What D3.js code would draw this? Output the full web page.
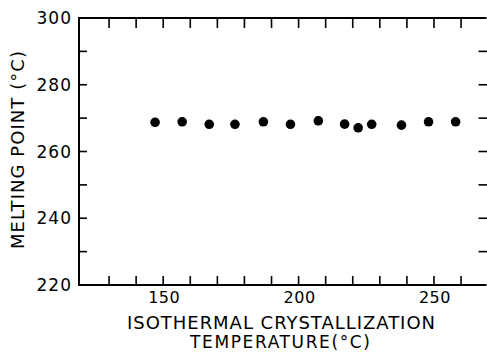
<!DOCTYPE html>
<html>
<head>
<meta charset="utf-8">
<script src="https://cdn.jsdelivr.net/npm/d3@7"></script>
<style>
  body { margin: 0; background: #fff; }
  svg { display: block; font-family: "DejaVu Sans", sans-serif; }
</style>
</head>
<body>
<div id="chart"></div>
<script>
// Data
const crystTemp = [147, 157, 167, 176.5, 187, 197, 207.3, 217, 222, 227, 238, 248, 258];
const meltPoint = [268.75, 268.9, 268.15, 268.15, 268.9, 268.15, 269.2, 268.2, 267.1, 268.15, 267.9, 268.9, 268.9];
const xTickLabels = [150, 200, 250];
const yTickLabels = [220, 240, 260, 280, 300];
const xMinor = d3.range(130, 261, 10);
const yLeft = [230, 240, 250, 260, 270, 280, 290];
const yRight = d3.range(230, 291, 10);

const width = 487;
const height = 353;
const plotLeft = 79, plotRight = 486.5, plotTop = 18, plotBottom = 285;

const svg = d3.select("#chart").append("svg")
    .attr("width", width)
    .attr("height", height);

const x = d3.scaleLinear().domain([118.9, 269.4]).range([plotLeft, plotRight]);
const y = d3.scaleLinear().domain([220, 300]).range([plotBottom, plotTop]);

// frame: top, left, bottom lines
svg.append("path")
    .attr("d", `M${plotRight},${plotTop}H${plotLeft}V${plotBottom}H${plotRight}`)
    .attr("fill", "none")
    .attr("stroke", "#000")
    .attr("stroke-width", 2);

// bottom ticks (pointing up)
svg.append("g")
    .selectAll("line")
    .data(xMinor)
    .join("line")
    .attr("x1", d => x(d)).attr("x2", d => x(d))
    .attr("y1", plotBottom).attr("y2", plotBottom - 9)
    .attr("stroke", "#000").attr("stroke-width", 1.6);

// top ticks (pointing down)
svg.append("g")
    .selectAll("line")
    .data(xMinor)
    .join("line")
    .attr("x1", d => x(d)).attr("x2", d => x(d))
    .attr("y1", plotTop).attr("y2", plotTop + 10)
    .attr("stroke", "#000").attr("stroke-width", 1.6);

// left ticks
svg.append("g")
    .selectAll("line")
    .data(yLeft)
    .join("line")
    .attr("x1", plotLeft).attr("x2", plotLeft + 8)
    .attr("y1", d => y(d)).attr("y2", d => y(d))
    .attr("stroke", "#000").attr("stroke-width", 1.6);

// right ticks (border line itself falls off the page)
svg.append("g")
    .selectAll("line")
    .data(yRight)
    .join("line")
    .attr("x1", plotRight - 8).attr("x2", plotRight + 1)
    .attr("y1", d => y(d)).attr("y2", d => y(d))
    .attr("stroke", "#000").attr("stroke-width", 1.6);

// y tick labels
svg.append("g")
    .selectAll("text")
    .data(yTickLabels)
    .join("text")
    .attr("x", 72)
    .attr("y", d => y(d) + 6)
    .attr("text-anchor", "end")
    .attr("font-size", 17)
    .attr("letter-spacing", 1)
    .text(d => d);

// x tick labels
svg.append("g")
    .selectAll("text")
    .data(xTickLabels)
    .join("text")
    .attr("x", d => x(d) + 1)
    .attr("y", 303)
    .attr("text-anchor", "middle")
    .attr("font-size", 16)
    .attr("letter-spacing", 0.5)
    .text(d => d);

// points
svg.append("g")
    .selectAll("circle")
    .data(crystTemp.map((t, i) => [t, meltPoint[i]]))
    .join("circle")
    .attr("cx", d => x(d[0]))
    .attr("cy", d => y(d[1]))
    .attr("r", 4.8)
    .attr("fill", "#000");

// axis titles
svg.append("text")
    .attr("x", 281).attr("y", 329)
    .attr("text-anchor", "middle")
    .attr("font-size", 18)
    .attr("textLength", 308)
    .attr("lengthAdjust", "spacing")
    .text("ISOTHERMAL CRYSTALLIZATION");

svg.append("text")
    .attr("x", 280).attr("y", 348)
    .attr("text-anchor", "middle")
    .attr("font-size", 17)
    .attr("textLength", 180)
    .attr("lengthAdjust", "spacing")
    .text("TEMPERATURE(°C)");

svg.append("text")
    .attr("transform", "translate(24,150) rotate(-90)")
    .attr("text-anchor", "middle")
    .attr("font-size", 18)
    .attr("textLength", 198)
    .attr("lengthAdjust", "spacing")
    .text("MELTING POINT (°C)");
</script>
</body>
</html>
